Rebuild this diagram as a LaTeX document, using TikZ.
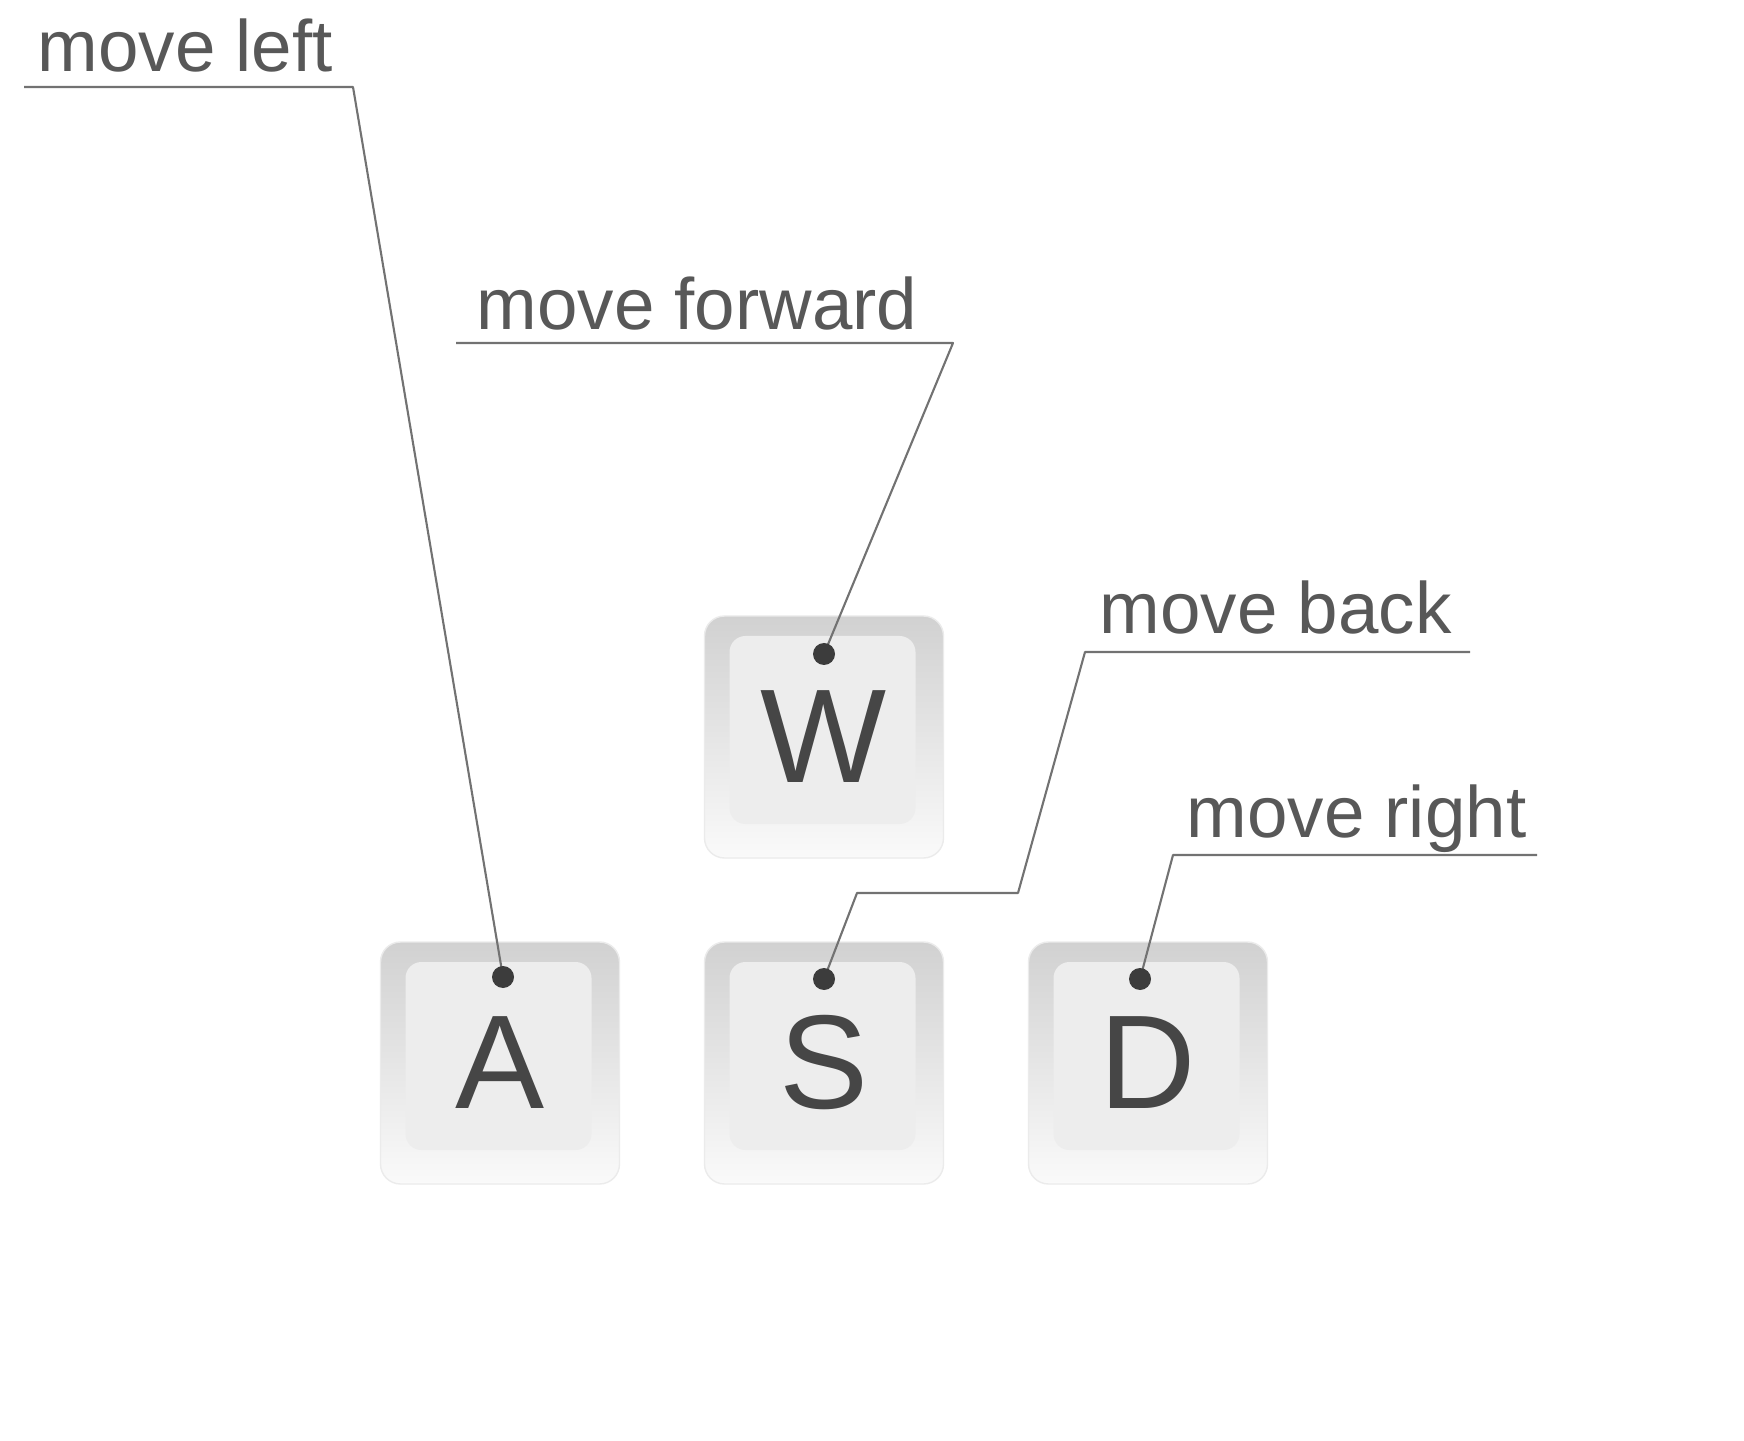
\documentclass[tikz,border=0pt]{standalone}
\usepackage{fontspec}
\setmainfont{Liberation Sans}
\usetikzlibrary{calc}

\definecolor{ink}{HTML}{464646}
\definecolor{leadgray}{HTML}{727272}
\definecolor{dotgray}{HTML}{3C3C3C}

\tikzset{
  keycap/.style={rounded corners=0.2cm, minimum width=2.39cm, minimum height=2.42cm,
    inner sep=0pt, draw=black!8, top color=black!18, bottom color=black!2,
    text=ink, font=\fontsize{38}{38}\selectfont,
    path picture={\fill[black!7, rounded corners=0.16cm]
      ([shift={(0.25cm,0.34cm)}]path picture bounding box.south west) rectangle
      ([shift={(-0.28cm,-0.2cm)}]path picture bounding box.north east);}},
  tag/.style={anchor=base west, inner sep=0pt, text=ink!90, font=\fontsize{20.7}{24}\selectfont},
  lead/.style={draw=leadgray, line width=0.6pt, line join=round}
}

\begin{document}
\begin{tikzpicture}
  \useasboundingbox (0,0) rectangle (17.44,14.40);

  \node[keycap] (keyw) at (8.24,7.03) {W};
  \node[keycap] (keya) at (5.00,3.77) {A};
  \node[keycap] (keys) at (8.24,3.77) {S};
  \node[keycap] (keyd) at (11.48,3.77) {D};

  \coordinate (dotw) at (8.24,7.86);
  \coordinate (dota) at (5.03,4.63);
  \coordinate (dots) at (8.24,4.61);
  \coordinate (dotd) at (11.40,4.61);

  \node[tag] (left) at (0.37,13.68) {move left};
  \coordinate (left1) at (0.24,13.53);
  \coordinate (left2) at (3.53,13.53);
  \draw[lead] (left1) -- (left2) -- (dota);

  \node[tag] (fwd) at (4.76,11.10) {move forward};
  \coordinate (fwd1) at (4.56,10.97);
  \coordinate (fwd2) at (9.53,10.97);
  \draw[lead] (fwd1) -- (fwd2) -- (dotw);

  \node[tag] (back) at (10.99,8.06) {move back};
  \coordinate (back1) at (14.70,7.88);
  \coordinate (back2) at (10.85,7.88);
  \coordinate (back3) at (10.18,5.47);
  \coordinate (back4) at (8.57,5.47);
  \draw[lead] (back1) -- (back2) -- (back3) -- (back4) -- (dots);

  \node[tag] (right) at (11.86,6.03) {move right};
  \coordinate (right1) at (15.37,5.85);
  \coordinate (right2) at (11.73,5.85);
  \draw[lead] (right1) -- (right2) -- (dotd);

  \foreach \d in {dotw,dota,dots,dotd}
    \fill[dotgray] (\d) circle (0.11);
\end{tikzpicture}
\end{document}
